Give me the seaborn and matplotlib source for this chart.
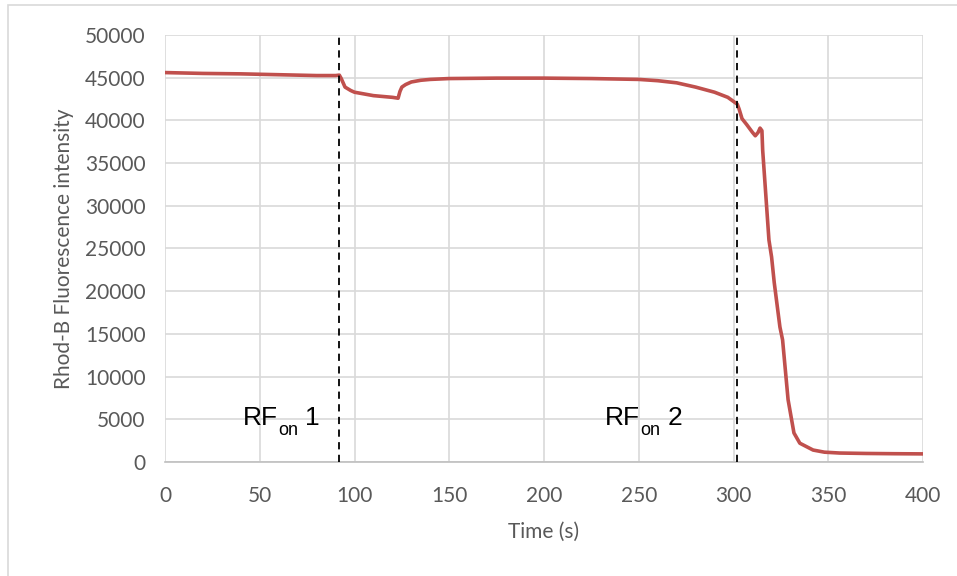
import matplotlib
matplotlib.use("Agg")
import matplotlib.pyplot as plt
import seaborn as sns
import pandas as pd
from matplotlib.patches import Rectangle

# values
time_s = [0, 20, 40, 60, 80, 90, 92, 93, 95, 98, 100, 105, 110, 115, 120, 123,
          124, 125, 127, 130, 135, 140, 150, 175, 200, 225, 250, 260, 270, 280,
          290, 297, 302, 303, 304.5, 307, 310, 311.5, 313, 314, 315, 315.4,
          316.6, 318.7, 320.1, 321.5, 324.5, 325.9, 328.8, 331.9, 335, 342,
          348, 356, 370, 385, 400]
intensity = [45600, 45500, 45450, 45350, 45250, 45250, 45300, 44900, 43900,
             43500, 43300, 43100, 42900, 42800, 42700, 42600, 43400, 43900,
             44200, 44500, 44700, 44800, 44900, 44950, 44950, 44900, 44800,
             44650, 44400, 43900, 43300, 42700, 41900, 41300, 40200, 39500,
             38600, 38200, 38600, 39100, 38800, 36500, 32700, 26000, 24000,
             21000, 15800, 14300, 7300, 3400, 2200, 1400, 1150, 1050, 1000,
             970, 950]

rf_times = [92, 302]
rf_labels = ["1", "2"]
rf_label_x = [41, 232]

df = pd.DataFrame({"Time (s)": time_s, "Intensity": intensity})

sns.set_theme(style="white")
plt.rcParams["font.family"] = ["Lato", "DejaVu Sans"]

fig = plt.figure(figsize=(9.57, 5.76), dpi=100)
ax = fig.add_axes([165 / 957, 1 - 462 / 576, (923 - 165) / 957, (462 - 35) / 576])

sns.lineplot(data=df, x="Time (s)", y="Intensity", ax=ax, color="#C0504D",
             linewidth=2.6, zorder=3)

for t in rf_times:
    ax.axvline(t, color="black", linestyle=(0, (4, 3)), linewidth=1.3, zorder=4)

# "RF" + subscript "on" + number
for x, lab in zip(rf_label_x, rf_labels):
    kw = dict(xycoords="data", textcoords="offset points", color="black",
              family="Liberation Sans", zorder=5, va="baseline")
    ax.annotate("RF", (x, 4300), xytext=(0, 0), fontsize=19, **kw)
    ax.annotate("on", (x, 4300), xytext=(25.5, -7), fontsize=13, **kw)
    ax.annotate(lab, (x, 4300), xytext=(45, 0), fontsize=19, **kw)

ax.set_xlim(0, 400)
ax.set_ylim(0, 50000)
ax.set_xticks(range(0, 401, 50))
ax.set_yticks(range(0, 50001, 5000))
ax.grid(True, color="#d9d9d9", linewidth=1.2)
ax.set_axisbelow(True)
for s in ["top", "right", "left"]:
    ax.spines[s].set_visible(False)
ax.spines["bottom"].set_color("#bfbfbf")
ax.spines["bottom"].set_linewidth(1.2)
ax.tick_params(axis="y", length=0, labelsize=15, labelcolor="#595959", pad=14)
ax.tick_params(axis="x", length=0, labelsize=15, labelcolor="#595959", pad=17)
ax.set_xlabel("Time (s)", fontsize=15, color="#595959", labelpad=12)
ax.set_ylabel("Rhod-B Fluorescence intensity", fontsize=15, color="#595959",
              labelpad=8)

# chart-area border
fig.patches.append(Rectangle((8 / 957, -0.1), 1.2, 1 - 5 / 576 + 0.1,
                             transform=fig.transFigure, fill=False,
                             edgecolor="#d9d9d9", linewidth=1.2))

fig.savefig("out.png", dpi=100)
